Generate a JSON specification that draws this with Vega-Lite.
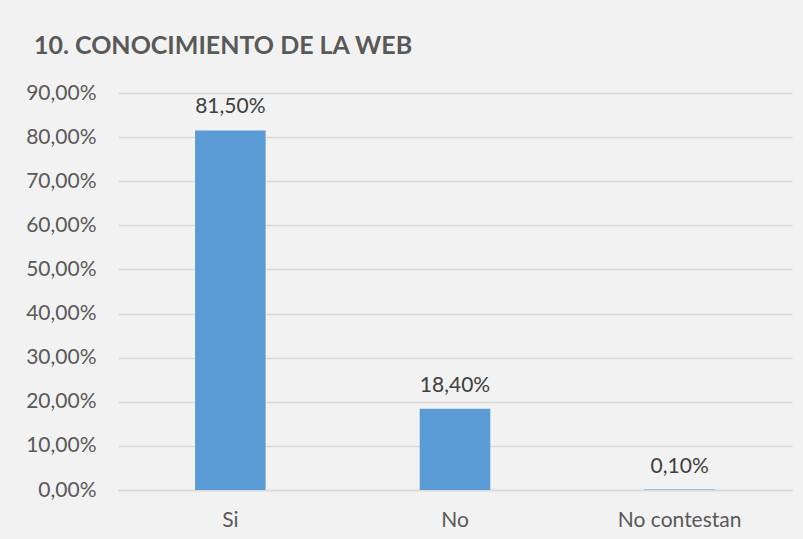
{
  "$schema": "https://vega.github.io/schema/vega-lite/v6.json",
  "width": 674,
  "height": 397,
  "autosize": {"type": "none"},
  "padding": {"left": 118, "top": 93, "right": 11, "bottom": 49},
  "background": "#F2F2F2",
  "config": {
    "locale": {"number": {"decimal": ",", "thousands": ".", "grouping": [3], "currency": ["", " €"]}},
    "view": {"stroke": null},
    "font": "Lato"
  },
  "title": {
    "text": "10. CONOCIMIENTO DE LA WEB",
    "anchor": "start",
    "frame": "group",
    "dx": -84,
    "offset": 3,
    "baseline": "alphabetic",
    "fontSize": 25,
    "fontWeight": "bold",
    "color": "#595959",
    "font": "Lato"
  },
  "data": {
    "values": [
      {"respuesta": "Si", "porcentaje": 0.815},
      {"respuesta": "No", "porcentaje": 0.184},
      {"respuesta": "No contestan", "porcentaje": 0.001}
    ]
  },
  "encoding": {
    "x": {
      "field": "respuesta",
      "type": "nominal",
      "sort": null,
      "scale": {"paddingInner": 0.686, "paddingOuter": 0.343},
      "axis": {
        "title": null,
        "labelAngle": 0,
        "ticks": false,
        "domain": true,
        "domainColor": "#D9D9D9",
        "domainWidth": 1.5,
        "labelPadding": 19,
        "labelFontSize": 21,
        "labelColor": "#595959",
        "grid": false
      }
    },
    "y": {
      "field": "porcentaje",
      "type": "quantitative",
      "scale": {"domain": [0, 0.9], "nice": false},
      "axis": {
        "title": null,
        "values": [0, 0.1, 0.2, 0.3, 0.4, 0.5, 0.6, 0.7, 0.8, 0.9],
        "format": ".2%",
        "ticks": false,
        "domain": false,
        "grid": true,
        "gridColor": "#D9D9D9",
        "gridWidth": 1.5,
        "labelPadding": 22,
        "labelFontSize": 21,
        "labelColor": "#595959"
      }
    }
  },
  "layer": [
    {"mark": {"type": "bar", "color": "#5B9BD5"}},
    {
      "mark": {"type": "text", "baseline": "alphabetic", "dy": -17, "fontSize": 21, "color": "#404040"},
      "encoding": {"text": {"field": "porcentaje", "type": "quantitative", "format": ".2%"}}
    }
  ]
}
